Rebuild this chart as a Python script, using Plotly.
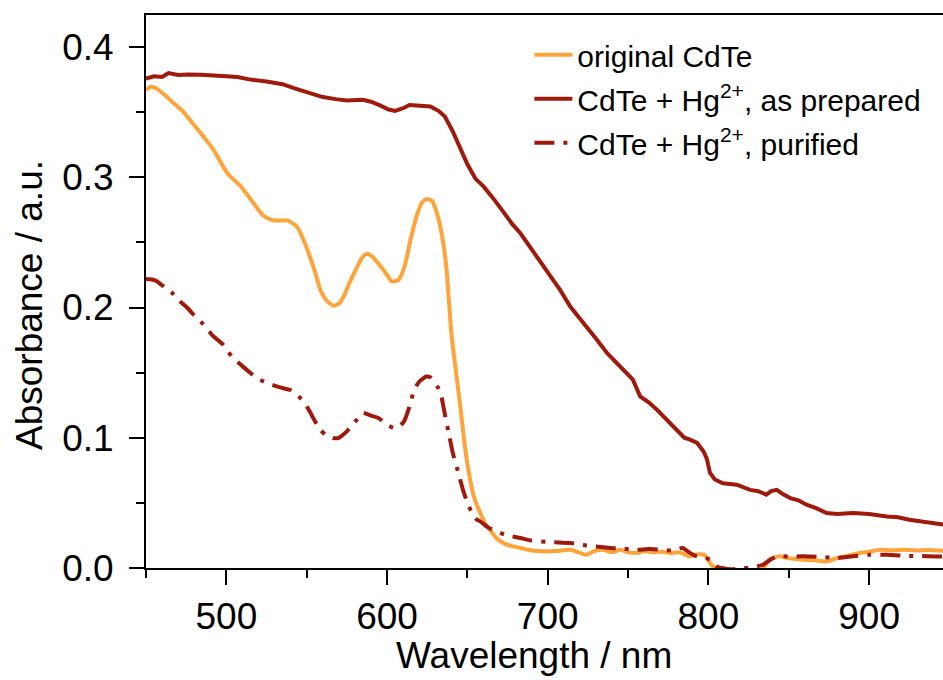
import plotly.graph_objects as go

# ---- data ----
orig_wl = [450, 453, 456, 461, 467, 473, 478, 484, 492, 500.7, 509, 517, 523, 529, 534, 538, 544, 548, 552, 555.5,
           558.5, 562, 566.7, 570, 573, 577, 581.6, 585, 587.8, 591, 596, 600, 603, 607, 611, 614.6, 619, 622, 625, 628,
           630, 633, 635, 637, 640, 642, 645.6, 648, 650, 652, 654, 656, 658, 661, 664, 668, 672, 677, 683, 690,
           697, 705, 714, 719, 724, 729, 734.5, 740, 745, 750, 755.5, 760, 766, 771, 776, 782, 788.6, 793, 797, 799,
           801, 803, 805, 810, 820, 830, 834, 838, 844, 850, 859, 866, 873.6, 880, 887, 894, 900, 907, 914, 921,
           930, 937, 946]
orig_abs = [0.367, 0.3695, 0.3685, 0.364, 0.357, 0.3506, 0.343, 0.334, 0.321, 0.303, 0.293, 0.280, 0.2705, 0.267, 0.2668,
            0.2669, 0.262, 0.252, 0.239, 0.226, 0.2137, 0.206, 0.2014, 0.203, 0.2085, 0.220, 0.2316, 0.239, 0.2413, 0.239,
            0.2316, 0.225, 0.220, 0.221, 0.232, 0.252, 0.2726, 0.281, 0.2833, 0.282, 0.2764, 0.263, 0.2495, 0.230, 0.1806,
            0.160, 0.124, 0.098, 0.080, 0.066, 0.055, 0.048, 0.0424, 0.034, 0.0294, 0.023, 0.0194, 0.017, 0.0154, 0.0135,
            0.0128, 0.013, 0.014, 0.012, 0.0102, 0.013, 0.014, 0.012, 0.014, 0.012, 0.0115, 0.013, 0.012, 0.0125, 0.0115,
            0.012, 0.0089, 0.0105, 0.0102, 0.008, 0.0038, 0.001, -0.001, -0.004, -0.005, -0.003, -0.0005, 0.0064, 0.009,
            0.0075, 0.0064, 0.006, 0.005, 0.0077, 0.0095, 0.0115, 0.0125, 0.014, 0.0135, 0.014, 0.0135, 0.0138, 0.0133]

prep_wl = [450, 455, 460, 464, 470, 476, 484, 490, 500, 507, 515, 525, 535, 542, 552, 560, 568, 575, 585, 590, 596, 601,
           605, 610, 614, 620, 627, 632, 636, 641, 646, 650, 655, 660, 666, 672.5, 678, 683, 687, 691, 696, 701.5, 708,
           714, 722, 730.6, 737, 743, 748, 753, 757.5, 763, 768, 774, 780, 785, 788.6, 793, 797, 799, 801, 804, 809,
           817.6, 826, 831, 836, 839, 842.5, 846, 851, 856, 861, 867, 873.6, 880, 890, 900, 911, 918, 925, 935, 946]
prep_abs = [0.3757, 0.3775, 0.3770, 0.3800, 0.3785, 0.3790, 0.3787, 0.3780, 0.3775, 0.3770, 0.3750, 0.3736, 0.3715,
            0.3685, 0.3650, 0.3616, 0.3600, 0.3590, 0.3595, 0.3580, 0.3550, 0.3520, 0.3510, 0.3530, 0.3555, 0.3552,
            0.3544, 0.3510, 0.3467, 0.3350, 0.3220, 0.3100, 0.2990, 0.2930, 0.2840, 0.2725, 0.2640, 0.2570, 0.2500,
            0.2420, 0.2340, 0.2240, 0.2130, 0.2008, 0.1890, 0.1753, 0.1650, 0.1574, 0.1510, 0.1446, 0.1318, 0.1270,
            0.1215, 0.1140, 0.1062, 0.1000, 0.0985, 0.0960, 0.0895, 0.0840, 0.0730, 0.0680, 0.0650, 0.0640, 0.0600,
            0.0590, 0.0563, 0.0590, 0.0600, 0.0570, 0.0537, 0.0520, 0.0486, 0.0460, 0.0422, 0.0415, 0.0422, 0.0415,
            0.0396, 0.0390, 0.0370, 0.0355, 0.0333]

pur_wl = [450, 454, 457, 462, 466.5, 471, 475.8, 480, 484, 488, 491, 498, 501, 504.5, 510, 515, 520, 525.6, 530, 535.5,
          540, 545, 549, 552, 555, 558.5, 562, 566.7, 570, 575, 580, 585, 590, 594.6, 600, 604, 607, 610.6, 614, 616.9,
          620, 624.4, 627, 629.4, 631.5, 633.8, 636, 638.8, 641, 644.4, 647, 650, 653, 656, 658, 663, 668, 675, 683,
          690, 699.5, 707, 714, 720, 730, 739, 747, 755.5, 763, 770, 777, 784, 788, 792.8, 797, 801, 805, 813.5, 820,
          828, 834, 838, 842.5, 850, 859, 870, 880, 890, 900.6, 911, 921, 930, 942, 946]
pur_abs = [0.2219, 0.2215, 0.220, 0.215, 0.211, 0.205, 0.1996, 0.194, 0.1893, 0.184, 0.179, 0.1714, 0.166, 0.161, 0.155,
           0.1497, 0.145, 0.142, 0.140, 0.138, 0.1365, 0.1318, 0.126, 0.120, 0.113, 0.106, 0.102, 0.0998, 0.100, 0.1049,
           0.112, 0.119, 0.117, 0.1152, 0.110, 0.1075, 0.108, 0.1126, 0.124, 0.1369, 0.143, 0.147, 0.1465, 0.1433, 0.139,
           0.1318, 0.118, 0.101, 0.088, 0.073, 0.061, 0.050, 0.042, 0.037, 0.0358, 0.031, 0.0281, 0.025, 0.023, 0.021,
           0.020, 0.0195, 0.0192, 0.018, 0.0165, 0.0154, 0.0148, 0.014, 0.0145, 0.014, 0.0135, 0.0154, 0.012, 0.0089,
           0.008, 0.0064, 0.0012, -0.001, -0.0005, 0.0008, 0.0025, 0.006, 0.009, 0.0088, 0.009, 0.0085, 0.0077, 0.009,
           0.0102, 0.0102, 0.0094, 0.0092, 0.0089, 0.0089]

names = ["original CdTe", "CdTe + Hg<sup>2+</sup>, as prepared", "CdTe + Hg<sup>2+</sup>, purified"]
x_title = "Wavelength / nm"
y_title = "Absorbance / a.u."

ORANGE = "#FFA43A"
DARKRED = "#9E1A0C"
FONT = "Liberation Sans, Arial, sans-serif"

fig = go.Figure()
fig.add_trace(go.Scatter(x=orig_wl, y=orig_abs, name=names[0], mode="lines", legendgroup="a",
                         line=dict(color=ORANGE, width=4, shape="spline", smoothing=0.6)))
fig.add_trace(go.Scatter(x=prep_wl, y=prep_abs, name=names[1], mode="lines", legendgroup="b",
                         line=dict(color=DARKRED, width=4)))
fig.add_trace(go.Scatter(x=pur_wl, y=pur_abs, name=names[2], mode="lines", legendgroup="c",
                         line=dict(color=DARKRED, width=4, dash="20px,9px,4px,9px",
                                   shape="spline", smoothing=0.5)))

axis_common = dict(
    showline=True, linecolor="black", linewidth=2,
    ticks="outside", ticklen=15, tickwidth=2, tickcolor="black",
    showgrid=False, zeroline=False, automargin=False,
    tickfont=dict(family=FONT, size=37, color="black"),
)

fig.update_xaxes(range=[450, 946], dtick=100, tick0=0, mirror=True,
                 minor=dict(ticks="outside", ticklen=8, tickwidth=2, tickcolor="black", dtick=50, tick0=0, showgrid=False),
                 ticklabelstandoff=0,
                 **axis_common)
fig.update_yaxes(range=[0, 0.4246], dtick=0.1, tick0=0, tickformat=".1f", mirror=False,
                 minor=dict(ticks="outside", ticklen=8, tickwidth=2, tickcolor="black", dtick=0.05, tick0=0, showgrid=False),
                 ticklabelstandoff=8,
                 **axis_common)

title_font = dict(family=FONT, size=37, color="black")
fig.add_annotation(text=x_title, xref="paper", yref="paper", x=0.4868, y=-0.1584,
                   xanchor="center", yanchor="middle", showarrow=False, font=title_font)
fig.add_annotation(text=y_title, xref="paper", yref="paper", x=-0.1455, y=0.4756, textangle=-90,
                   xanchor="center", yanchor="middle", showarrow=False, font=title_font)

fig.update_layout(
    width=943, height=680,
    margin=dict(l=146, r=0, t=15, b=112, pad=0),
    plot_bgcolor="white", paper_bgcolor="white",
    font=dict(family=FONT, color="black"),
    legend=dict(x=0.481, y=0.975, xanchor="left", yanchor="top",
                font=dict(family=FONT, size=30, color="black"),
                bgcolor="rgba(0,0,0,0)", borderwidth=0, itemwidth=38,
                traceorder="grouped", tracegroupgap=2),
)

fig.write_html("out.html", config={"displayModeBar": False},
               post_script="document.body.style.margin='0';document.body.style.overflow='hidden';")
